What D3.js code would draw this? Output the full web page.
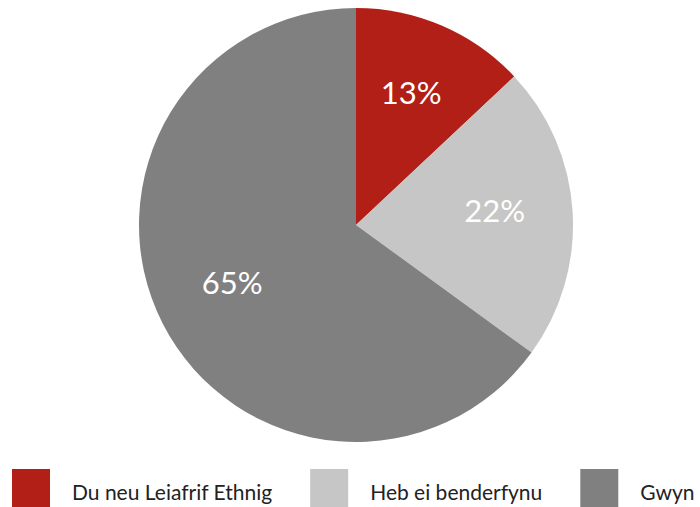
<!DOCTYPE html>
<html>
<head>
<meta charset="utf-8">
<script src="https://cdn.jsdelivr.net/npm/d3@7"></script>
<style>
  body { margin: 0; background: #fff; }
  svg { display: block; font-family: Lato, sans-serif; }
</style>
</head>
<body>
<div id="chart"></div>
<script>
// Data
const categories = ["Du neu Leiafrif Ethnig", "Heb ei benderfynu", "Gwyn"];
const values = [13, 22, 65];
const colors = ["#b21f17", "#c5c6c5", "#808080"];

const width = 700;
const height = 507;

const svg = d3.select("#chart")
    .append("svg")
    .attr("width", width)
    .attr("height", height);

const cx = 356, cy = 225, radius = 217;

const pie = d3.pie().sort(null).value(d => d);
const arc = d3.arc().innerRadius(0).outerRadius(radius);
const labelArc = d3.arc().innerRadius(radius * 0.64).outerRadius(radius * 0.64);

const g = svg.append("g")
    .attr("transform", `translate(${cx},${cy})`);

const arcs = pie(values);

g.selectAll("path")
    .data(arcs)
    .join("path")
    .attr("d", arc)
    .attr("fill", (d, i) => colors[i]);

// Percent labels
g.selectAll("text")
    .data(arcs)
    .join("text")
    .attr("transform", d => `translate(${labelArc.centroid(d)})`)
    .attr("text-anchor", "middle")
    .attr("dy", "0.2em")
    .attr("fill", "#fff")
    .attr("font-size", 31)
    .text(d => d.data + "%");

// Legend
const legend = svg.append("g")
    .attr("transform", "translate(12, 469)");

let x = 0;
categories.forEach((c, i) => {
    const item = legend.append("g").attr("transform", `translate(${x},0)`);
    item.append("rect")
        .attr("width", 38)
        .attr("height", 38)
        .attr("fill", colors[i]);
    const t = item.append("text")
        .attr("x", 60)
        .attr("y", 31)
        .attr("font-size", 21)
        .attr("fill", "#222")
        .text(c);
    x += 60 + t.node().getComputedTextLength() + 38;
});
</script>
</body>
</html>
